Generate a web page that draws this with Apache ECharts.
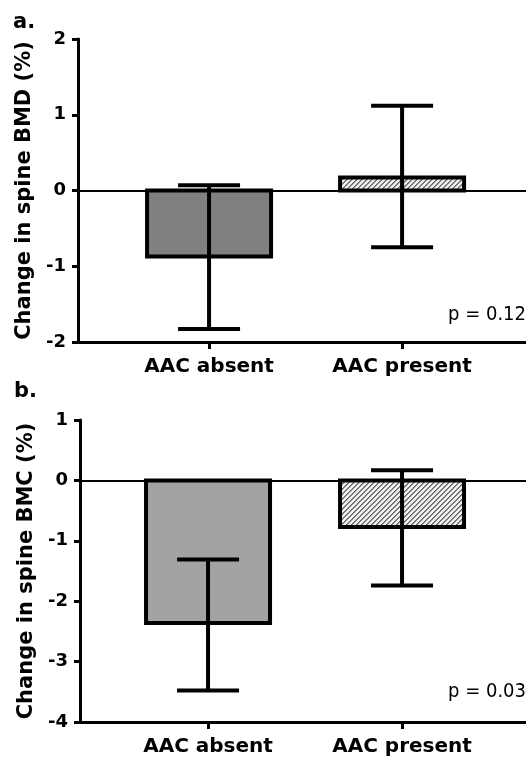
<!DOCTYPE html>
<html>
<head>
<meta charset="utf-8">
<script src="https://cdn.jsdelivr.net/npm/echarts@6/dist/echarts.min.js"></script>
<style>
html,body{margin:0;padding:0;background:#fff;}
#c{width:526px;height:759px;}
</style>
</head>
<body>
<div id="c"></div>
<script>
// ---- data ----
const categories = ['AAC absent', 'AAC present'];
const panelLabels = ['a.', 'b.'];
const yTitles = ['Change in spine BMD (%)', 'Change in spine BMC (%)'];
const pLabels = ['p = 0.12', 'p = 0.03'];

const bmdMean = [-0.87, 0.17];
const bmdLow  = [-1.83, -0.75];
const bmdHigh = [0.07, 1.12];
const bmdTicks = [-2, -1, 0, 1, 2];

const bmcMean = [-2.36, -0.77];
const bmcLow  = [-3.48, -1.74];
const bmcHigh = [-1.31, 0.17];
const bmcTicks = [-4, -3, -2, -1, 0, 1];

// ---- hatch pattern ----
function makeHatch() {
  const s = 10, c = document.createElement('canvas');
  c.width = s; c.height = s;
  const ctx = c.getContext('2d');
  const img = ctx.createImageData(s, s);
  for (let y = 0; y < s; y++) for (let x = 0; x < s; x++) {
    const k = (x + y) % 5;
    const g = k === 0 ? 100 : (k === 1 ? 140 : 240);
    const i = (y * s + x) * 4;
    img.data[i] = img.data[i+1] = img.data[i+2] = g; img.data[i+3] = 255;
  }
  ctx.putImageData(img, 0, 0);
  return c;
}
const hatch = { image: makeHatch(), repeat: 'repeat' };

const solidFills = ['#808080', '#a3a3a3'];
const bold = 'DejaVu Sans';

const grids = [
  { left: 78, top: 39, width: 448, height: 303 },
  { left: 80, top: 420, width: 446, height: 302 }
];
const xRanges = [[-0.679, 1.642], [-0.66, 1.639]];

function barSeries(idx, means) {
  return {
    type: 'custom', xAxisIndex: idx, yAxisIndex: idx,
    data: means.map((v, i) => [i, v]),
    renderItem: function (params, api) {
      const x = api.value(0), v = api.value(1);
      const p0 = api.coord([x, 0]);
      const p1 = api.coord([x, v]);
      const w = 124;
      const y = Math.min(p0[1], p1[1]);
      const h = Math.abs(p1[1] - p0[1]);
      return {
        type: 'rect',
        shape: { x: p0[0] - w / 2, y: y, width: w, height: h },
        style: { fill: x === 0 ? solidFills[idx] : hatch, stroke: '#000', lineWidth: 4 }
      };
    },
    markLine: {
      silent: true, symbol: 'none', animation: false,
      label: { show: false },
      lineStyle: { color: '#000', width: 2, type: 'solid' },
      data: [{ yAxis: 0 }]
    },
    z: 2
  };
}
function errSeries(idx, lows, highs) {
  return {
    type: 'custom', xAxisIndex: idx, yAxisIndex: idx,
    data: lows.map((v, i) => [i, v, highs[i]]),
    renderItem: function (params, api) {
      const x = api.value(0);
      const lo = api.coord([x, api.value(1)]);
      const hi = api.coord([x, api.value(2)]);
      const cw = 31;
      const st = { stroke: '#000', lineWidth: 4 };
      return {
        type: 'group',
        children: [
          { type: 'line', shape: { x1: lo[0], y1: lo[1], x2: hi[0], y2: hi[1] }, style: st },
          { type: 'line', shape: { x1: lo[0] - cw, y1: lo[1], x2: lo[0] + cw, y2: lo[1] }, style: st },
          { type: 'line', shape: { x1: hi[0] - cw, y1: hi[1], x2: hi[0] + cw, y2: hi[1] }, style: st }
        ]
      };
    },
    z: 3
  };
}

function xAxis(idx) {
  return {
    type: 'value', gridIndex: idx, min: xRanges[idx][0], max: xRanges[idx][1],
    splitLine: { show: false },
    axisLine: { onZero: false, lineStyle: { color: '#000', width: 3 } },
    axisTick: { show: true, length: 7, customValues: [0, 1], lineStyle: { color: '#000', width: 3 } },
    axisLabel: {
      customValues: [0, 1], margin: 15,
      formatter: v => categories[Math.round(v)],
      color: '#000', fontFamily: bold, fontWeight: 'bold', fontSize: 20
    }
  };
}
function yAxis(idx, ticks, title) {
  return {
    type: 'value', gridIndex: idx, min: ticks[0], max: ticks[ticks.length - 1], interval: 1,
    splitLine: { show: false },
    axisLine: { onZero: false, lineStyle: { color: '#000', width: 3 } },
    axisTick: { show: true, length: 6, lineStyle: { color: '#000', width: 3 } },
    axisLabel: { margin: 12, color: '#000', fontFamily: bold, fontWeight: 'bold', fontSize: 18 },
    name: title, nameLocation: 'middle', nameGap: 42,
    nameTextStyle: { color: '#000', fontFamily: bold, fontWeight: 'bold', fontSize: 21 }
  };
}

const chart = echarts.init(document.getElementById('c'), null, { renderer: 'canvas' });
chart.setOption({
  animation: false,
  backgroundColor: '#fff',
  grid: grids,
  xAxis: [xAxis(0), xAxis(1)],
  yAxis: [yAxis(0, bmdTicks, yTitles[0]), yAxis(1, bmcTicks, yTitles[1])],
  series: [
    barSeries(0, bmdMean), errSeries(0, bmdLow, bmdHigh),
    barSeries(1, bmcMean), errSeries(1, bmcLow, bmcHigh)
  ],
  graphic: [
    { type: 'text', left: 13, top: 12, style: { text: panelLabels[0], fill: '#000', font: 'bold 21px "DejaVu Sans"' } },
    { type: 'text', left: 14, top: 381, style: { text: panelLabels[1], fill: '#000', font: 'bold 21px "DejaVu Sans"' } },
    { type: 'text', right: 0, top: 305, style: { text: pLabels[0], fill: '#000', font: '20px "DejaVu Sans Condensed", "DejaVu Sans"' } },
    { type: 'text', right: 0, top: 682, style: { text: pLabels[1], fill: '#000', font: '20px "DejaVu Sans Condensed", "DejaVu Sans"' } }
  ]
});
</script>
</body>
</html>
